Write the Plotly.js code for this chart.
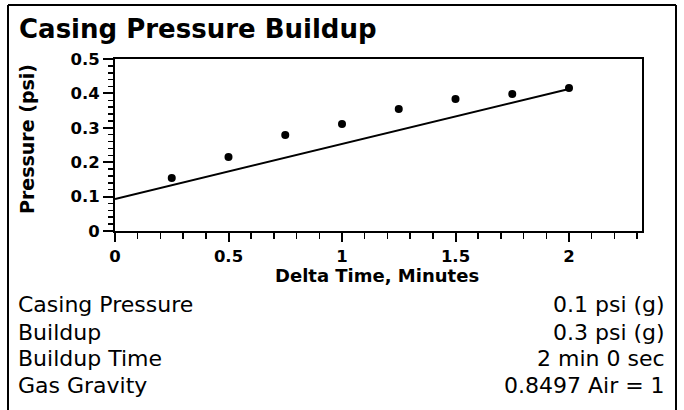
<!DOCTYPE html>
<html><head><meta charset="utf-8">
<script src="https://cdn.plot.ly/plotly-3.0.1.min.js"></script>
<style>html,body{margin:0;padding:0;background:#fff;}</style>
</head><body>
<div id="chart" style="width:684px;height:410px;"></div>
<script>
// ---- data ----
const deltaTime = [0.25, 0.5, 0.75, 1.0, 1.25, 1.5, 1.75, 2.0];
const pressure = [0.154, 0.215, 0.279, 0.311, 0.355, 0.384, 0.398, 0.416];
const fitTime = [0, 2];
const fitPressure = [0.093, 0.413];
const xTickVals = [0, 0.5, 1, 1.5, 2];
const xTickText = ['0', '0.5', '1', '1.5', '2'];
const yTickVals = [0, 0.1, 0.2, 0.3, 0.4, 0.5];
const yTickText = ['0', '0.1', '0.2', '0.3', '0.4', '0.5'];
const infoLabels = ['Casing Pressure', 'Buildup', 'Buildup Time', 'Gas Gravity'];
const infoValues = ['0.1 psi (g)', '0.3 psi (g)', '2 min 0 sec', '0.8497 Air = 1'];
const chartTitle = 'Casing Pressure Buildup';
const xTitle = 'Delta Time, Minutes';
const yTitle = 'Pressure (psi)';

// ---- layout geometry (pixels) ----
const W = 684, H = 410, L = 115, R = 42, T = 59, B = 179;
const pw = W - L - R, ph = H - T - B;
const px = p => (p - L) / pw;
const py = p => (H - B - p) / ph;
const FONT = 'DejaVu Sans';

const annotations = [];
annotations.push({text: chartTitle, xref: 'paper', yref: 'paper', x: px(17), y: py(29),
  xanchor: 'left', yanchor: 'middle', showarrow: false,
  font: {family: FONT, size: 26, weight: 'bold', color: '#000'}});
annotations.push({text: yTitle, xref: 'paper', yref: 'paper', x: px(27), y: py(139),
  xanchor: 'center', yanchor: 'middle', textangle: -90, showarrow: false,
  font: {family: FONT, size: 19, weight: 'bold', color: '#000'}});
annotations.push({text: xTitle, xref: 'paper', yref: 'paper', x: px(377), y: py(275),
  xanchor: 'center', yanchor: 'middle', showarrow: false,
  font: {family: FONT, size: 18, weight: 'bold', color: '#000'}});
const rowY = [304, 332, 358, 385];
infoLabels.forEach((t, i) => {
  annotations.push({text: t, xref: 'paper', yref: 'paper', x: px(16), y: py(rowY[i]),
    xanchor: 'left', yanchor: 'middle', showarrow: false,
    font: {family: FONT, size: 22, color: '#000'}});
  annotations.push({text: infoValues[i], xref: 'paper', yref: 'paper', x: px(667), y: py(rowY[i]),
    xanchor: 'right', yanchor: 'middle', showarrow: false,
    font: {family: FONT, size: 22, color: '#000'}});
});

const frame = {type: 'line', xref: 'paper', yref: 'paper', line: {color: '#000', width: 2}};
const shapes = [
  Object.assign({}, frame, {x0: px(8), x1: px(8), y0: py(5), y1: py(415)}),
  Object.assign({}, frame, {x0: px(676), x1: px(676), y0: py(5), y1: py(415)}),
  Object.assign({}, frame, {x0: px(8), x1: px(676), y0: py(5), y1: py(5)})
];

const tickFont = {family: FONT, size: 16.5, weight: 'bold', color: '#000'};
const traces = [
  {x: fitTime, y: fitPressure, mode: 'lines', line: {color: '#000', width: 2}, hoverinfo: 'skip'},
  {x: deltaTime, y: pressure, mode: 'markers', marker: {color: '#000', size: 8, symbol: 'circle'}}
];

const layout = {
  width: W, height: H, showlegend: false,
  paper_bgcolor: '#fff', plot_bgcolor: '#fff',
  margin: {l: L, r: R, t: T, b: B, pad: 0},
  xaxis: {range: [0, pw / 227], tickmode: 'array', tickvals: xTickVals, ticktext: xTickText,
    ticks: 'outside', ticklen: 9, tickwidth: 2, tickcolor: '#000',
    showline: true, linewidth: 2, linecolor: '#000', mirror: true,
    showgrid: false, zeroline: false, tickfont: tickFont,
    minor: {dtick: 0.1, tick0: 0, ticks: 'outside', ticklen: 6, tickwidth: 1.5, tickcolor: '#000', showgrid: false}},
  yaxis: {range: [0, 0.5], tickmode: 'array', tickvals: yTickVals, ticktext: yTickText,
    ticks: 'outside', ticklen: 10, tickwidth: 2, tickcolor: '#000',
    showline: true, linewidth: 2, linecolor: '#000', mirror: true,
    showgrid: false, zeroline: false, tickfont: tickFont,
    minor: {dtick: 0.02, tick0: 0, ticks: 'outside', ticklen: 5, tickwidth: 1.5, tickcolor: '#000', showgrid: false}},
  annotations: annotations,
  shapes: shapes
};

Plotly.newPlot('chart', traces, layout, {displayModeBar: false, staticPlot: true});
</script>
</body></html>
